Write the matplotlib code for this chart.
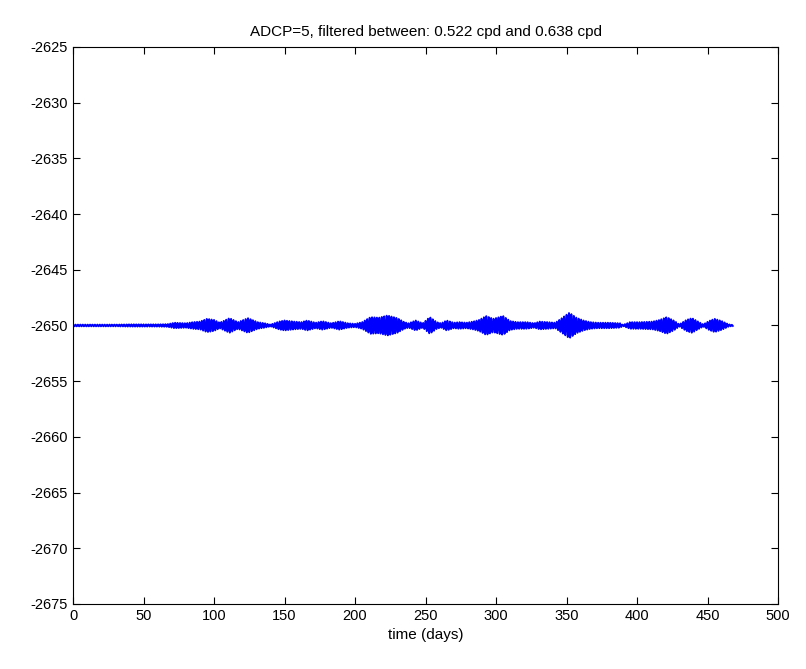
import numpy as np
import matplotlib
matplotlib.use('Agg')
import matplotlib.pyplot as plt

plt.rcParams['font.family'] = ['Liberation Sans', 'DejaVu Sans']
plt.rcParams['axes.unicode_minus'] = False

# envelope of the band-passed signal (day, half-amplitude)
env_days = [0, 10, 20, 30, 40, 50, 60, 67, 72, 80, 85, 90, 95, 100, 104, 111, 117,
            124, 131, 136, 140, 146, 150, 157, 162, 166, 172, 177, 183, 189, 195,
            200, 205, 211, 217, 223, 230, 235, 238, 243, 248, 253, 258, 261, 265,
            270, 274, 279, 284, 288, 293, 298, 305, 310, 315, 322, 327, 331, 337,
            342, 346, 352, 357, 362, 367, 372, 380, 388, 390, 395, 402, 411, 416,
            421, 426, 430, 435, 439, 444, 447, 451, 455, 460, 465, 468]
env_amp = [0.08, 0.08, 0.08, 0.08, 0.1, 0.1, 0.1, 0.12, 0.25, 0.2, 0.3, 0.35, 0.6,
           0.5, 0.25, 0.66, 0.3, 0.66, 0.3, 0.2, 0.08, 0.35, 0.45, 0.35, 0.3, 0.45,
           0.25, 0.38, 0.2, 0.38, 0.2, 0.15, 0.3, 0.75, 0.7, 0.9, 0.66, 0.3, 0.2,
           0.45, 0.2, 0.75, 0.3, 0.2, 0.45, 0.25, 0.3, 0.25, 0.36, 0.5, 0.85, 0.6,
           0.85, 0.4, 0.3, 0.3, 0.2, 0.35, 0.3, 0.25, 0.6, 1.15, 0.7, 0.45, 0.3,
           0.25, 0.25, 0.2, 0.05, 0.3, 0.3, 0.35, 0.5, 0.75, 0.45, 0.1, 0.5, 0.66,
           0.3, 0.1, 0.4, 0.6, 0.4, 0.1, 0.05]
depth = -2650
band_lo, band_hi = 0.522, 0.638   # cpd

# hourly series, carrier at the band centre
t = np.arange(0, env_days[-1], 1 / 24)
f0 = 0.5 * (band_lo + band_hi)
y = depth + np.interp(t, env_days, env_amp) * np.cos(2 * np.pi * f0 * t)

fig = plt.figure(figsize=(8.06, 6.69), dpi=100)
ax = fig.add_axes([0.0906, 0.0972, 0.8747, 0.8326])
ax.plot(t, y, color='blue', lw=1.3)

ax.set_xlim(0, 500)
ax.set_ylim(-2675, -2625)
ax.set_xticks(np.arange(0, 501, 50))
ax.set_yticks(np.arange(-2675, -2624, 5))
ax.tick_params(direction='in', top=True, right=True, labelsize=10.5, length=5)
for s in ax.spines.values():
    s.set_linewidth(0.8)
ax.set_xlabel('time (days)', fontsize=11)
ax.set_title('ADCP=5, filtered between: %.3f cpd and %.3f cpd' % (band_lo, band_hi),
             fontsize=11, pad=8)

fig.savefig('out.png', dpi=100)
